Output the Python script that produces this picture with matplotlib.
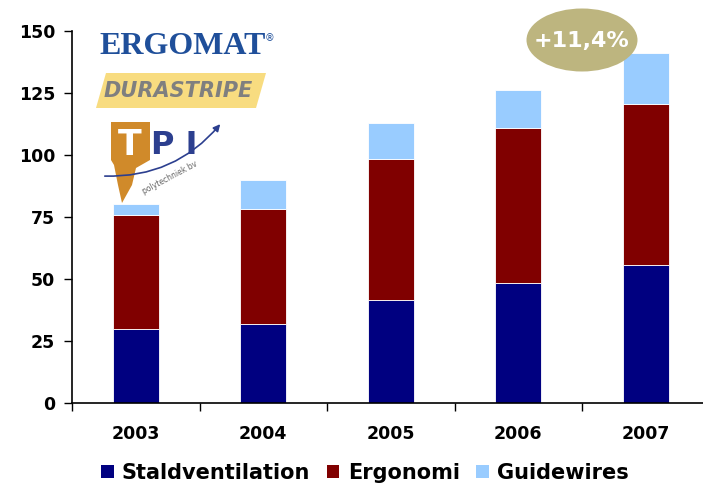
import matplotlib
matplotlib.use("Agg")
import matplotlib.pyplot as plt
import numpy as np
from matplotlib.patches import Ellipse, Polygon, Patch, FancyArrowPatch

# data
years = ['2003', '2004', '2005', '2006', '2007']
staldventilation = [29.8, 31.9, 41.5, 48.4, 55.6]
ergonomi = [46.0, 46.3, 56.9, 62.5, 65.0]
guidewires = [4.4, 11.7, 14.5, 15.3, 20.5]
series_names = ['Staldventilation', 'Ergonomi', 'Guidewires']
colors = ['#000080', '#800000', '#99ccff']

W, H = 703, 486
fig = plt.figure(figsize=(W / 100, H / 100), dpi=100)

# axes placed in pixel units (right side runs past the figure edge)
left, right, top, bottom = 72, 709.5, 31, 403
ax = fig.add_axes([left / W, (H - bottom) / H, (right - left) / W, (bottom - top) / H])

x = np.arange(len(years))
bw = 0.36
base = np.zeros(len(years))
for vals, c in zip([staldventilation, ergonomi, guidewires], colors):
    ax.bar(x, vals, bw, bottom=base, color=c, edgecolor='white', linewidth=0.6)
    base = base + np.array(vals)

ax.set_xlim(-0.5, 4.5)
ax.set_ylim(0, 150)
ax.set_yticks(np.arange(0, 151, 25))
ax.set_xticks(x)
ax.set_xticklabels(years)
ax.set_xticks(np.arange(-0.5, 4.6, 1), minor=True)
ax.tick_params(axis='x', which='major', length=0, pad=16)
ax.tick_params(axis='x', which='minor', length=6, width=1, direction='out')
ax.tick_params(axis='y', length=6, width=1, direction='out', pad=6)
for lab in ax.get_xticklabels() + ax.get_yticklabels():
    lab.set_fontweight('bold')
    lab.set_fontsize(12.5)
for s in ['top', 'right']:
    ax.spines[s].set_visible(False)
for s in ['left', 'bottom']:
    ax.spines[s].set_linewidth(1.2)


def fx(px):
    return px / W


def fy(py):
    return (H - py) / H


# growth bubble
ell = Ellipse((fx(582), fy(40)), 111 / W, 63 / H, transform=fig.transFigure,
              facecolor='#bdb57f', edgecolor='none', zorder=5)
fig.patches.append(ell)
fig.text(fx(582), fy(41), '+11,4%', color='white', fontsize=16, fontweight='bold',
         ha='center', va='center', zorder=6)

# logos (approximated)
fig.text(fx(99), fy(47), 'ERGOMAT', color='#1f4f9a', fontsize=23, fontweight='bold',
         family='Liberation Serif', va='center', ha='left')
fig.text(fx(265), fy(38), '®', color='#1f4f9a', fontsize=7, va='center')
dura = Polygon([(fx(106), fy(73)), (fx(266), fy(73)), (fx(256), fy(108)), (fx(96), fy(108))],
               closed=True, transform=fig.transFigure, facecolor='#f8dc80', edgecolor='none')
fig.patches.append(dura)
fig.text(fx(178), fy(91), 'DURASTRIPE', color='#7f7f7f', fontsize=15, fontweight='heavy',
         style='italic', ha='center', va='center')
tblock = Polygon([(fx(111), fy(122)), (fx(150), fy(122)), (fx(150), fy(160)), (fx(136), fy(168)),
                  (fx(132), fy(185)), (fx(122), fy(203)), (fx(118), fy(185)), (fx(114), fy(165)),
                  (fx(111), fy(160))],
                 closed=True, transform=fig.transFigure, facecolor='#d08a2a', edgecolor='none')
fig.patches.append(tblock)
fig.text(fx(130), fy(145), 'T', color='white', fontsize=25, fontweight='bold',
         va='center', ha='center')
fig.text(fx(151), fy(145), 'P I', color='#2c3f8f', fontsize=23, fontweight='bold',
         va='center', ha='left')
arrow = FancyArrowPatch((fx(102), fy(176)), (fx(222), fy(122)), transform=fig.transFigure,
                        connectionstyle='arc3,rad=0.25', arrowstyle='-|>', mutation_scale=10,
                        color='#2c3f8f', linewidth=1.2)
fig.patches.append(arrow)
fig.text(fx(170), fy(178), 'polytechniek bv', color='#666666', fontsize=5.5,
         rotation=28, ha='center', va='center')

handles = [Patch(facecolor=c, edgecolor='none') for c in colors]
leg = fig.legend(handles, series_names, loc='center', bbox_to_anchor=(fx(365), fy(473)),
                 ncol=3, frameon=False, prop={'weight': 'bold', 'size': 15},
                 handlelength=0.6, handleheight=0.6, handletextpad=0.4, columnspacing=0.8)

fig.savefig('out.png', dpi=100)
